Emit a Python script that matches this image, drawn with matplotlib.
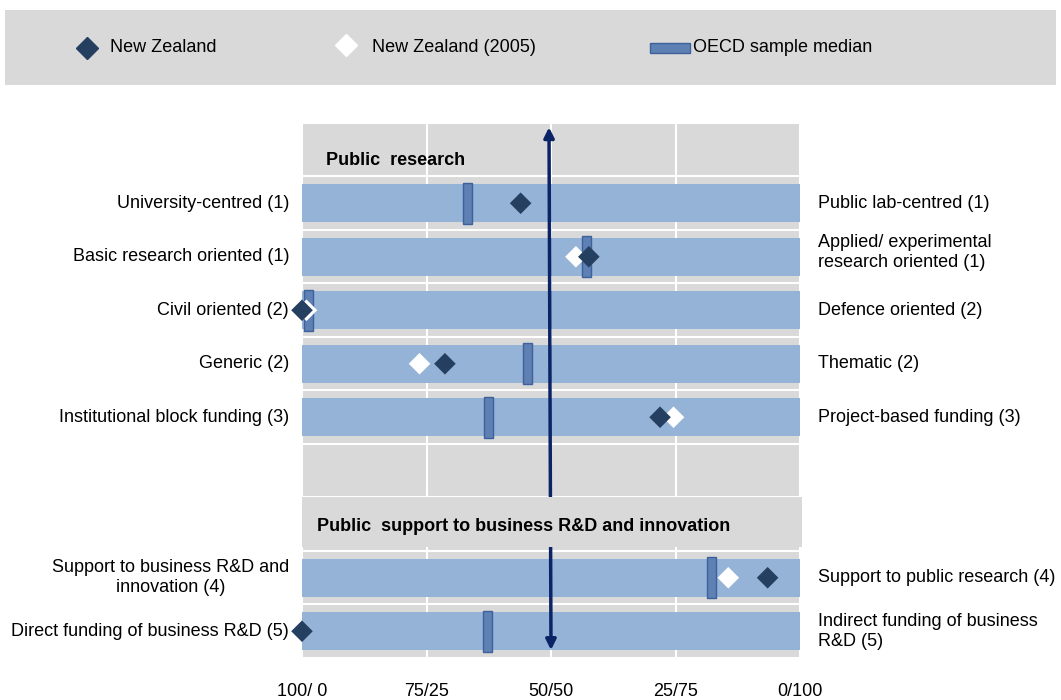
import matplotlib
matplotlib.use('Agg')
import matplotlib.pyplot as plt
from matplotlib.patches import Rectangle

plt.rcParams['font.family'] = ['Liberation Sans', 'DejaVu Sans']

# rows: 0 header, 1-5 public research, 6 empty, 7 header, 8-9 business support
left_labels = ['University-centred (1)', 'Basic research oriented (1)', 'Civil oriented (2)',
               'Generic (2)', 'Institutional block funding (3)',
               'Support to business R&D and\ninnovation (4)', 'Direct funding of business R&D (5)']
right_labels = ['Public lab-centred (1)', 'Applied/ experimental\nresearch oriented (1)',
                'Defence oriented (2)', 'Thematic (2)', 'Project-based funding (3)',
                'Support to public research (4)', 'Indirect funding of business\nR&D (5)']
rows = [1, 2, 3, 4, 5, 8, 9]
nz = [43.9, 57.6, 0.0, 28.7, 71.9, 93.5, 0.0]
nz2005 = [None, 55.0, 0.9, 23.6, 74.6, 85.6, None]
median = [33.3, 57.2, 1.3, 45.3, 37.5, 82.3, 37.3]
tick_vals = [0, 25, 50, 75, 100]
tick_labels = ['100/ 0', '75/25', '50/50', '25/75', '0/100']

BG = '#d9d9d9'
BAND = '#95b3d7'
DARK = '#243f60'
MED = '#5f80b3'
MED_EDGE = '#3d619c'
ARROW = '#0b2466'
FS = 13

fig = plt.figure(figsize=(10.61, 7.0), dpi=100)

# legend strip
lax = fig.add_axes([5 / 1061, 1 - 85 / 700, 1051 / 1061, 75 / 700])
lax.set_facecolor(BG)
lax.set_xlim(0, 1051)
lax.set_ylim(0, 75)
lax.set_xticks([])
lax.set_yticks([])
for s in lax.spines.values():
    s.set_visible(False)
lax.plot([82], [37], marker='D', ms=11, color=DARK, mec=DARK)
lax.text(105, 37, 'New Zealand', fontsize=FS, va='center')
lax.plot([341], [40], marker='D', ms=11, color='white', mec='white')
lax.text(367, 37, 'New Zealand (2005)', fontsize=FS, va='center')
lax.add_patch(Rectangle((645, 32), 40, 10, facecolor=MED, edgecolor=MED_EDGE, lw=1))
lax.text(688, 37, 'OECD sample median', fontsize=FS, va='center')

ax = fig.add_axes([302 / 1061, 1 - 658 / 700, 498 / 1061, 535 / 700])
ax.set_facecolor(BG)
ax.set_xlim(0, 100)
ax.set_ylim(9.5, -0.5)
for s in ax.spines.values():
    s.set_visible(False)

# grid
for v in tick_vals:
    ax.axvline(v, color='white', lw=1.5, zorder=1)
for r in range(11):
    ax.axhline(r - 0.5, color='white', lw=1.5, zorder=1)

# bands
ax.barh(rows, [100] * len(rows), height=0.71, color=BAND, zorder=2)

# arrow
ax.annotate('', xy=(49.6, -0.42), xytext=(50.0, 9.35),
            arrowprops=dict(arrowstyle='<|-|>', color=ARROW, lw=2.5,
                            mutation_scale=15, shrinkA=0, shrinkB=0), zorder=3)

# header box covering arrow
ax.add_patch(Rectangle((0, 6.5), 100.5, 0.92, facecolor=BG, edgecolor='none',
                       zorder=4, clip_on=False))
ax.text(4.8, 0.2, 'Public  research', fontsize=FS, fontweight='bold', va='center', zorder=5)
ax.text(3.0, 7.05, 'Public  support to business R&D and innovation', fontsize=FS,
        fontweight='bold', va='center', zorder=5)

# medians
ax.bar(median, [0.77] * len(rows), width=1.75, bottom=[r - 0.385 for r in rows],
       color=MED, edgecolor=MED_EDGE, lw=1, zorder=5)

# 2005 and current values
x05 = [v for v in nz2005 if v is not None]
r05 = [r for r, v in zip(rows, nz2005) if v is not None]
ax.scatter(x05, r05, marker='D', s=121, color='white', edgecolors='none', zorder=6, clip_on=False)
ax.scatter(nz, rows, marker='D', s=121, color=DARK, edgecolors='none', zorder=7, clip_on=False)

# side labels
for r, lt, rt in zip(rows, left_labels, right_labels):
    ax.text(-2.6, r, lt, ha='right', va='center', multialignment='center', fontsize=FS)
    dy = -0.08 if r == 2 else 0
    ax.text(103.6, r + dy, rt, ha='left', va='center', multialignment='left', fontsize=FS)

ax.set_yticks([])
ax.set_xticks(tick_vals)
ax.set_xticklabels(tick_labels, fontsize=FS)
ax.tick_params(axis='x', length=0, pad=18)

fig.savefig('out.png', dpi=100)
